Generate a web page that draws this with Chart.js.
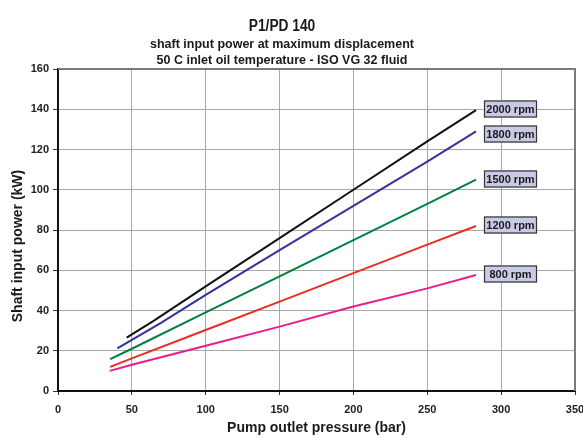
<!DOCTYPE html>
<html><head><meta charset="utf-8">
<script src="https://cdn.jsdelivr.net/npm/chart.js@4/dist/chart.umd.min.js"></script>
<style>html,body{margin:0;padding:0;background:#fff}#wrap{width:583px;height:437px}</style>
</head><body><div id="wrap"><canvas id="c" width="583" height="437"></canvas></div>
<script>
const titleLines = ["P1/PD 140", "shaft input power at maximum displacement", "50 C inlet oil temperature - ISO VG 32 fluid"];
const xTitle = "Pump outlet pressure (bar)";
const yTitle = "Shaft input power (kW)";
const seriesNames = ["2000 rpm", "1800 rpm", "1500 rpm", "1200 rpm", "800 rpm"];
const seriesColors = ["#111111", "#33339a", "#008040", "#ee2a24", "#ec1c8c"];

const pressure2000 = [46.5, 65, 100, 150, 200, 250, 283];
const power2000    = [26.5, 35, 52, 76, 100, 124, 139.6];
const pressure1800 = [40.2, 70, 100, 150, 200, 250, 283];
const power1800    = [21.2, 34, 47.8, 70, 92, 114, 129];
const pressure1500 = [35.3, 50, 100, 150, 200, 250, 283];
const power1500    = [15.8, 21, 39.1, 57, 75, 93, 105];
const pressure1200 = [35.3, 50, 100, 150, 200, 250, 283];
const power1200    = [12, 16.2, 30.3, 44.4, 58.6, 72.7, 82];
const pressure800  = [35, 50, 100, 150, 200, 250, 283];
const power800     = [10, 13, 22.5, 32, 42, 51, 57.6];

const xTicks = [0, 50, 100, 150, 200, 250, 300, 350];
const yTicks = [0, 20, 40, 60, 80, 100, 120, 140, 160];

const xs = [pressure2000, pressure1800, pressure1500, pressure1200, pressure800];
const ys = [power2000, power1800, power1500, power1200, power800];

const datasets = seriesNames.map((n, i) => ({
  label: n,
  data: xs[i].map((x, j) => ({x: x, y: ys[i][j]})),
  borderColor: seriesColors[i],
  backgroundColor: seriesColors[i],
  borderWidth: 2,
  pointRadius: 0,
  tension: 0,
  fill: false
}));

const FONT = "'Liberation Sans', Arial, sans-serif";

const decor = {
  id: 'decor',
  afterDraw(chart) {
    const ctx = chart.ctx, a = chart.chartArea;
    ctx.save();
    // top and right frame
    ctx.strokeStyle = '#7a7a7a';
    ctx.lineWidth = 2;
    ctx.beginPath();
    ctx.moveTo(a.left, a.top); ctx.lineTo(a.right, a.top); ctx.lineTo(a.right, a.bottom);
    ctx.stroke();
    // titles
    ctx.fillStyle = '#1a1a1a';
    ctx.textAlign = 'center';
    ctx.textBaseline = 'alphabetic';
    const cx = 282;
    ctx.save();
    ctx.translate(cx, 31);
    ctx.scale(0.86, 1);
    ctx.font = "bold 16px " + FONT;
    ctx.fillText(titleLines[0], 0, 0);
    ctx.restore();
    ctx.font = "bold 12.5px " + FONT;
    ctx.fillText(titleLines[1], cx, 48);
    ctx.fillText(titleLines[2], cx, 64);
    // y axis title
    ctx.save();
    ctx.translate(18, 246);
    ctx.rotate(-Math.PI / 2);
    ctx.textBaseline = 'middle';
    ctx.font = "bold 14px " + FONT;
    ctx.fillText(yTitle, 0, 0);
    ctx.restore();
    // series labels
    const xs_ = chart.scales.x, ys_ = chart.scales.y;
    ctx.font = "bold 11px " + FONT;
    ctx.textBaseline = 'middle';
    chart.data.datasets.forEach((ds, i) => {
      const last = ds.data[ds.data.length - 1];
      const px = xs_.getPixelForValue(last.x);
      const py = ys_.getPixelForValue(last.y);
      const bx = Math.round(px) + 8, bw = 53, bh = 17;
      const by = Math.round(py) - bh / 2 - 1 + (i === 1 ? 4 : 0);
      ctx.fillStyle = '#c9cbe6';
      ctx.fillRect(bx, by, bw, bh);
      ctx.strokeStyle = '#333';
      ctx.lineWidth = 1.2;
      ctx.strokeRect(bx + 0.5, by + 0.5, bw - 1, bh - 1);
      ctx.fillStyle = '#1a1a1a';
      ctx.fillText(ds.label, bx + bw / 2, by + bh / 2 + 0.5);
    });
    ctx.restore();
  }
};

new Chart(document.getElementById('c'), {
  type: 'line',
  data: { datasets: datasets },
  options: {
    responsive: false,
    animation: false,
    devicePixelRatio: 1,
    layout: { padding: { top: 69, left: 0, right: 8, bottom: 0 } },
    plugins: { legend: { display: false }, title: { display: false }, tooltip: { enabled: false } },
    scales: {
      x: {
        type: 'linear', min: 0, max: 350,
        afterBuildTicks: s => { s.ticks = xTicks.map(v => ({value: v})); },
        afterFit: s => { s.height = 46; s.paddingRight = 0; s.paddingLeft = 0; },
        grid: { color: '#a8a8a8', lineWidth: 1, tickLength: 4, tickColor: '#333' },
        border: { color: '#111', width: 2 },
        ticks: { color: '#222', font: { family: FONT, size: 11, weight: 'bold' }, padding: 8, maxRotation: 0 },
        title: { display: true, text: xTitle, color: '#1a1a1a', font: { family: FONT, size: 14, weight: 'bold' }, padding: { top: 6, bottom: 0 } }
      },
      y: {
        type: 'linear', min: 0, max: 160,
        afterBuildTicks: s => { s.ticks = yTicks.map(v => ({value: v})); },
        afterFit: s => { s.width = 58; },
        grid: { color: '#a8a8a8', lineWidth: 1, tickLength: 5, tickColor: '#333' },
        border: { color: '#111', width: 2 },
        ticks: { color: '#222', font: { family: FONT, size: 11, weight: 'bold' }, padding: 4 },
        title: { display: false }
      }
    }
  },
  plugins: [decor]
});
</script></body></html>
